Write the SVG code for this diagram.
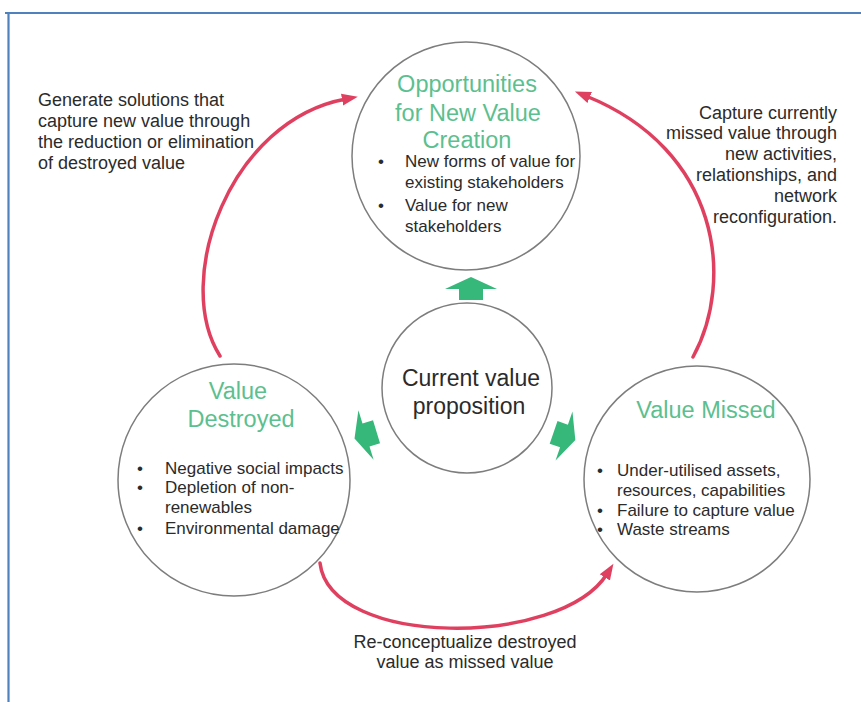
<svg xmlns="http://www.w3.org/2000/svg" width="861" height="702" viewBox="0 0 861 702">
<style>
.circ{fill:#fff;stroke:#7d7d7d;stroke-width:1.5}
.title{font-family:"Liberation Sans",Arial,sans-serif;font-size:23.5px;fill:#5cbf8f;text-anchor:middle}
.txt{font-family:"Liberation Sans",Arial,sans-serif;font-size:17px;fill:#2b2b2b}
.lbl{font-family:"Liberation Sans",Arial,sans-serif;font-size:18px;fill:#2b2b2b}
.ctr{font-family:"Liberation Sans",Arial,sans-serif;font-size:23px;fill:#2b2b2b;text-anchor:middle}
.red{fill:none;stroke:#e0405f;stroke-width:3.5;stroke-linecap:round}
.grn{fill:#36b87a}
</style>
<defs>
<marker id="ah" markerUnits="userSpaceOnUse" markerWidth="20" markerHeight="14" refX="4" refY="7" orient="auto">
<path d="M0,1 L16,7 L0,13 Z" fill="#e0405f"/>
</marker>
<path id="garrow" d="M0,-12 L26,0 L12,0 L12,11 L-12,11 L-12,0 L-26,0 Z"/>
</defs>
<rect x="0" y="0" width="861" height="702" fill="#fff"/>
<g id="frame" fill="none" stroke="#4f81bd" stroke-width="2.2">
<line x1="5" y1="13" x2="861" y2="13"/>
<line x1="8.5" y1="12" x2="8.5" y2="702"/>
</g>
<g id="connectors">
<path class="red" d="M220,356 C172,280 230,120 346,99" marker-end="url(#ah)"/>
<path class="red" d="M693,357 C735,280 720,150 586,96" marker-end="url(#ah)"/>
<path class="red" d="M320,563 C330,648 560,648 607,574" marker-end="url(#ah)"/>
<use href="#garrow" class="grn" transform="translate(471,289)"/>
<use href="#garrow" class="grn" transform="translate(366,435) rotate(-107)"/>
<use href="#garrow" class="grn" transform="translate(564,436) rotate(109)"/>
</g>
<g id="opportunities">
<circle class="circ" cx="466" cy="156" r="114"/>
<text class="title" x="467" y="92">Opportunities</text>
<text class="title" x="468" y="121">for New Value</text>
<text class="title" x="467" y="148">Creation</text>
<text class="txt" x="378" y="167">•</text>
<text class="txt" x="405" y="167">New forms of value for</text>
<text class="txt" x="405" y="188">existing stakeholders</text>
<text class="txt" x="378" y="211">•</text>
<text class="txt" x="405" y="211">Value for new</text>
<text class="txt" x="405" y="232">stakeholders</text>
</g>
<g id="current">
<circle class="circ" cx="467" cy="388" r="85"/>
<text class="ctr" x="471" y="386">Current value</text>
<text class="ctr" x="469" y="414">proposition</text>
</g>
<g id="destroyed">
<circle class="circ" cx="234" cy="480" r="116"/>
<text class="title" x="238" y="399">Value</text>
<text class="title" x="241" y="427">Destroyed</text>
<text class="txt" x="137" y="474">•</text>
<text class="txt" x="165" y="474">Negative social impacts</text>
<text class="txt" x="137" y="493">•</text>
<text class="txt" x="165" y="493">Depletion of non-</text>
<text class="txt" x="165" y="513">renewables</text>
<text class="txt" x="137" y="534">•</text>
<text class="txt" x="165" y="534">Environmental damage</text>
</g>
<g id="missed">
<circle class="circ" cx="697" cy="479" r="113"/>
<text class="title" x="706" y="418">Value Missed</text>
<text class="txt" x="597" y="476">•</text>
<text class="txt" x="617" y="476">Under-utilised assets,</text>
<text class="txt" x="617" y="496">resources, capabilities</text>
<text class="txt" x="597" y="516">•</text>
<text class="txt" x="617" y="516">Failure to capture value</text>
<text class="txt" x="597" y="535">•</text>
<text class="txt" x="617" y="535">Waste streams</text>
</g>
<g id="label-left">
<text class="lbl" x="38" y="106">Generate solutions that</text>
<text class="lbl" x="38" y="127">capture new value through</text>
<text class="lbl" x="38" y="148">the reduction or elimination</text>
<text class="lbl" x="38" y="169">of destroyed value</text>
</g>
<g id="label-right" text-anchor="end">
<text class="lbl" x="837" y="119">Capture currently</text>
<text class="lbl" x="837" y="139">missed value through</text>
<text class="lbl" x="837" y="160">new activities,</text>
<text class="lbl" x="837" y="181">relationships, and</text>
<text class="lbl" x="837" y="202">network</text>
<text class="lbl" x="837" y="223">reconfiguration.</text>
</g>
<g id="label-bottom" text-anchor="middle">
<text class="lbl" x="465" y="648">Re-conceptualize destroyed</text>
<text class="lbl" x="465" y="668">value as missed value</text>
</g>
</svg>
